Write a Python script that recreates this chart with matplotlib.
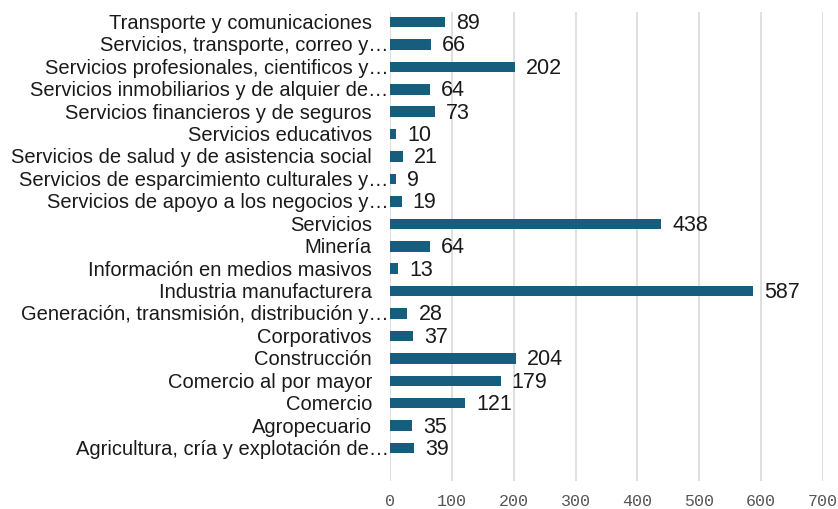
import matplotlib.pyplot as plt

# categories, top to bottom as shown
categories = [
    'Transporte y comunicaciones',
    'Servicios, transporte, correo y…',
    'Servicios profesionales, cientificos y…',
    'Servicios inmobiliarios y de alquier de…',
    'Servicios financieros y de seguros',
    'Servicios educativos',
    'Servicios de salud y de asistencia social',
    'Servicios de esparcimiento culturales y…',
    'Servicios de apoyo a los negocios y…',
    'Servicios',
    'Minería',
    'Información en medios masivos',
    'Industria manufacturera',
    'Generación, transmisión, distribución y…',
    'Corporativos',
    'Construcción',
    'Comercio al por mayor',
    'Comercio',
    'Agropecuario',
    'Agricultura, cría y explotación de…',
]
values = [89, 66, 202, 64, 73, 10, 21, 9, 19, 438, 64, 13, 587, 28, 37, 204, 179, 121, 35, 39]
x_ticks = [0, 100, 200, 300, 400, 500, 600, 700]

bar_color = '#175e7e'

fig = plt.figure(figsize=(8.38, 5.09), dpi=100)
ax = fig.add_axes([390 / 838, 1 - 481 / 509, 433 / 838, 469 / 509])

pos = list(range(len(categories)))
ax.barh(pos, values, height=0.47, color=bar_color, zorder=3)

# value labels at the end of each bar
for p, v in zip(pos, values):
    ax.annotate(str(v), xy=(v, p), xytext=(8, -1), textcoords='offset points',
                va='center', ha='left', fontsize=15.5, color='#1a1a1a',
                family='Liberation Sans')

# category labels: truncated ones let the ellipsis hang towards the axis
for p, c in zip(pos, categories):
    off = -1 if c.endswith('…') else -13
    ax.annotate(c, xy=(0, p), xycoords=('axes fraction', 'data'),
                xytext=(off, -1), textcoords='offset points',
                va='center', ha='right', fontsize=14.5, color='#1a1a1a',
                family='Liberation Sans')

ax.set_xlim(0, 700)
ax.set_ylim(20.47, -0.45)
ax.set_yticks([])
ax.set_xticks(x_ticks)
ax.set_xticklabels([str(t) for t in x_ticks], fontsize=12, family='Liberation Mono', color='#555555')
ax.tick_params(axis='x', length=0, pad=9)

ax.grid(axis='x', color='#d9d9d9', linewidth=1.2, zorder=0)
for s in ax.spines.values():
    s.set_visible(False)

fig.savefig('out.png', dpi=100)
